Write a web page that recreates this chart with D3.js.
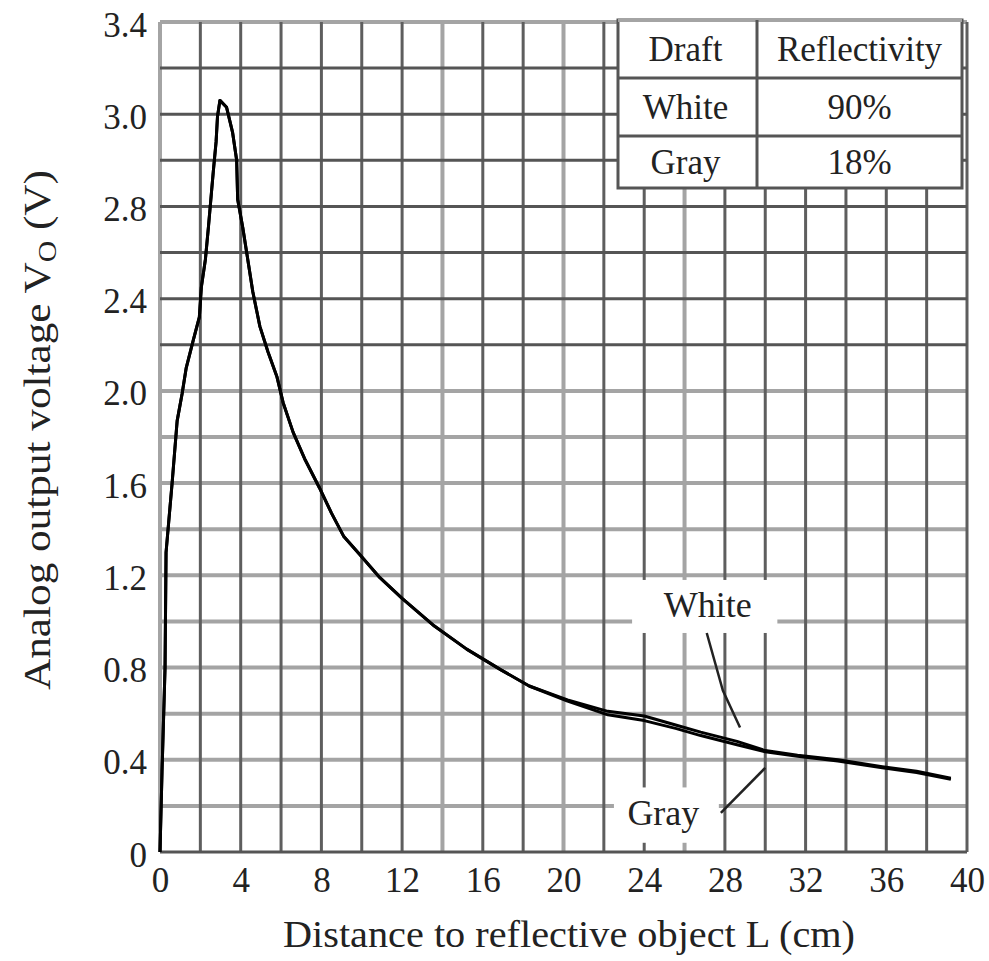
<!DOCTYPE html>
<html>
<head>
<meta charset="utf-8">
<script src="https://cdnjs.cloudflare.com/ajax/libs/d3/7.8.5/d3.min.js"></script>
<style>
body { margin: 0; background: #fff; }
svg text { font-family: "Liberation Serif", "DejaVu Serif", serif; fill: #222; }
</style>
</head>
<body>
<div id="chart"></div>
<script>
// distance to object (cm) and analog output (V)
const distance = [0, 0.1, 0.25, 0.3, 0.6, 0.85, 1.1, 1.3, 1.65, 1.95, 2.05, 2.25, 2.4, 2.55, 2.65, 2.78, 2.85, 2.97,
    3.3, 3.6, 3.8, 3.85, 4.1, 4.35, 4.6, 4.95, 5.35, 5.8, 6.1, 6.6, 7.2, 7.9, 8.5, 9.1, 9.9, 10.9, 12.0, 13.6,
    15.2, 16.9, 18.3, 20.2, 22.2, 24.0, 25.6, 26.8, 28.6, 30.0, 31.6, 33.6, 35.8, 37.5, 39.2];
const white = [0, 0.35, 0.8, 1.3, 1.6, 1.87, 1.99, 2.1, 2.22, 2.32, 2.45, 2.57, 2.71, 2.86, 2.96, 3.08, 3.19, 3.26,
    3.23, 3.12, 3.0, 2.83, 2.71, 2.57, 2.43, 2.28, 2.17, 2.06, 1.95, 1.82, 1.70, 1.58, 1.47, 1.37, 1.29, 1.19, 1.10, 0.98,
    0.88, 0.79, 0.72, 0.66, 0.61, 0.59, 0.55, 0.52, 0.48, 0.44, 0.42, 0.40, 0.37, 0.35, 0.32];
const gray = [0, 0.35, 0.8, 1.3, 1.6, 1.87, 1.99, 2.1, 2.22, 2.32, 2.45, 2.57, 2.71, 2.86, 2.96, 3.08, 3.19, 3.26,
    3.23, 3.12, 3.0, 2.83, 2.71, 2.57, 2.43, 2.28, 2.17, 2.06, 1.95, 1.82, 1.70, 1.58, 1.47, 1.37, 1.29, 1.19, 1.10, 0.98,
    0.88, 0.79, 0.72, 0.655, 0.595, 0.57, 0.535, 0.505, 0.465, 0.435, 0.415, 0.395, 0.365, 0.345, 0.315];

const xTicks = [0, 4, 8, 12, 16, 20, 24, 28, 32, 36, 40];
const yTicks = [0, 0.4, 0.8, 1.2, 1.6, 2.0, 2.4, 2.8, 3.2, 3.6];
const yTickLabels = ["0", "0.4", "0.8", "1.2", "1.6", "2.0", "2.4", "2.8", "3.0", "3.4"];

const tableHead = ["Draft", "Reflectivity"];
const tableDrafts = ["White", "Gray"];
const tableReflect = ["90%", "18%"];

const W = 989, H = 961;
const x = d3.scaleLinear().domain([0, 40]).range([160, 967]);
const y = d3.scaleLinear().domain([0, 3.6]).range([852, 22]);

const svg = d3.select("#chart").append("svg")
    .attr("width", W)
    .attr("height", H);

// grid: every 2 cm and every 0.2 V
const xGrid = d3.range(0, 40.01, 2);
const yGrid = d3.range(0, 3.61, 0.2);
const lightCols = [0, 14, 20, 26];
const isLightRow = v => (v > 0.01 && v < 2.1) || v > 3.5;

const grid = svg.append("g");
grid.selectAll(".hl").data(yGrid.filter(isLightRow)).enter().append("line")
    .attr("x1", x(0)).attr("x2", x(40))
    .attr("y1", d => y(d)).attr("y2", d => y(d))
    .attr("stroke", "#a4a4a4").attr("stroke-width", 4);
grid.selectAll(".vl").data(xGrid.filter(d => lightCols.includes(d))).enter().append("line")
    .attr("y1", y(0)).attr("y2", y(3.6))
    .attr("x1", d => x(d)).attr("x2", d => x(d))
    .attr("stroke", "#a4a4a4").attr("stroke-width", 4);
grid.selectAll(".vd").data(xGrid.filter(d => !lightCols.includes(d))).enter().append("line")
    .attr("y1", y(0)).attr("y2", y(3.6))
    .attr("x1", d => x(d)).attr("x2", d => x(d))
    .attr("stroke", "#5e5e5e").attr("stroke-width", 3);
grid.selectAll(".hd").data(yGrid.filter(d => !isLightRow(d))).enter().append("line")
    .attr("x1", x(0)).attr("x2", x(40))
    .attr("y1", d => y(d)).attr("y2", d => y(d))
    .attr("stroke", "#555").attr("stroke-width", 3);

// white patches behind the curve labels
const patches = [
    { x0: 23.4, x1: 30.6, y0: 0.95, y1: 1.18 },
    { x0: 22.5, x1: 27.7, y0: 0.04, y1: 0.28 }
];
svg.selectAll(".patch").data(patches).enter().append("rect")
    .attr("x", d => x(d.x0)).attr("y", d => y(d.y1))
    .attr("width", d => x(d.x1) - x(d.x0)).attr("height", d => y(d.y0) - y(d.y1))
    .attr("fill", "#fff");

// table
const tx = [618, 757, 962], ty = [20, 78, 136, 188];
const tbl = svg.append("g");
tbl.append("rect").attr("x", tx[0]).attr("y", ty[0])
    .attr("width", tx[2] - tx[0]).attr("height", ty[3] - ty[0])
    .attr("fill", "#fff").attr("stroke", "#555").attr("stroke-width", 3);
tbl.append("line").attr("x1", tx[0]).attr("x2", tx[2]).attr("y1", ty[0]).attr("y2", ty[0])
    .attr("stroke", "#a4a4a4").attr("stroke-width", 4);
tbl.append("line").attr("x1", tx[1]).attr("x2", tx[1]).attr("y1", ty[0]).attr("y2", ty[3])
    .attr("stroke", "#555").attr("stroke-width", 3);
[ty[1], ty[2]].forEach(v => tbl.append("line").attr("x1", tx[0]).attr("x2", tx[2])
    .attr("y1", v).attr("y2", v).attr("stroke", "#555").attr("stroke-width", 3));
const rows = [tableHead].concat(tableDrafts.map((d, i) => [d, tableReflect[i]]));
rows.forEach((r, i) => {
    const cy = (ty[i] + ty[i + 1]) / 2 + 12;
    tbl.append("text").attr("x", (tx[0] + tx[1]) / 2 - 2).attr("y", cy)
        .attr("text-anchor", "middle").attr("font-size", 35).text(r[0]);
    tbl.append("text").attr("x", (tx[1] + tx[2]) / 2).attr("y", cy)
        .attr("text-anchor", "middle").attr("font-size", 35).text(r[1]);
});

// curves
const line = d3.line().x(d => x(d[0])).y(d => y(d[1]));
[white, gray].forEach(s => {
    svg.append("path")
        .datum(distance.map((d, i) => [d, s[i]]))
        .attr("d", line)
        .attr("fill", "none").attr("stroke", "#000").attr("stroke-width", 3)
        .attr("stroke-linejoin", "round");
});

// curve labels with leaders
const notes = [
    { text: "White", tx: 27.15, ty: 1.07, pts: [[27.1, 0.95], [27.9, 0.7], [28.75, 0.54]] },
    { text: "Gray", tx: 24.95, ty: 0.17, pts: [[27.8, 0.17], [30.0, 0.365]] }
];
notes.forEach(n => {
    svg.append("text").attr("x", x(n.tx)).attr("y", y(n.ty) + 12)
        .attr("text-anchor", "middle").attr("font-size", 36).text(n.text);
    svg.append("path").datum(n.pts).attr("d", line)
        .attr("fill", "none").attr("stroke", "#222").attr("stroke-width", 2.5);
});

// axes: tick labels only
const xAxis = svg.append("g").attr("transform", `translate(0,${y(0)})`)
    .call(d3.axisBottom(x).tickValues(xTicks).tickSize(0).tickPadding(40).tickFormat(d3.format("d")));
const yAxis = svg.append("g").attr("transform", `translate(${x(0)},0)`)
    .call(d3.axisLeft(y).tickValues(yTicks).tickSize(0).tickPadding(13)
        .tickFormat((d, i) => yTickLabels[i]));
[xAxis, yAxis].forEach(a => {
    a.select(".domain").remove();
    a.selectAll("text").attr("font-size", 35).attr("font-family", "Liberation Serif").attr("fill", "#222");
});
xAxis.selectAll("text").attr("dy", 0);
yAxis.selectAll("text").attr("dy", "0.4em");

// axis titles
svg.append("text").attr("x", 569).attr("y", 947)
    .attr("text-anchor", "middle").attr("font-size", 38)
    .attr("textLength", 572).attr("lengthAdjust", "spacingAndGlyphs")
    .text("Distance to reflective object L (cm)");
const yt = svg.append("text")
    .attr("transform", "translate(50,430) rotate(-90)")
    .attr("text-anchor", "middle").attr("font-size", 38)
    .attr("textLength", 520).attr("lengthAdjust", "spacingAndGlyphs");
yt.append("tspan").text("Analog output voltage V");
yt.append("tspan").attr("font-size", 26).attr("dy", 6).text("O");
yt.append("tspan").attr("dy", -6).text(" (V)");
</script>
</body>
</html>
